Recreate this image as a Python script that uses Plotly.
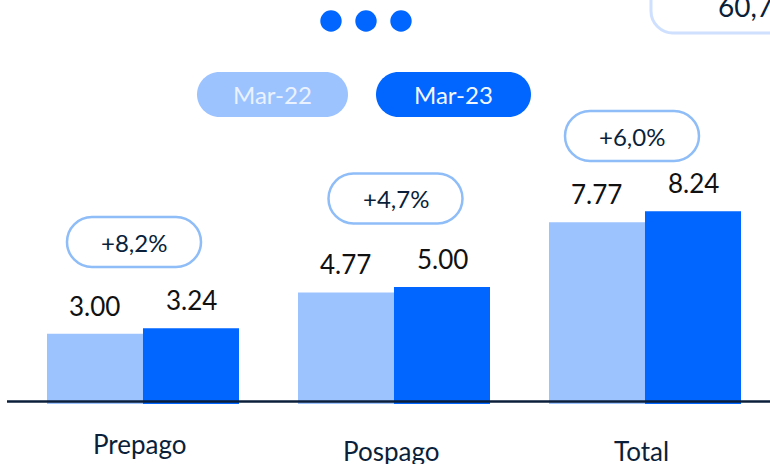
import plotly.graph_objects as go

# ---------------- data ----------------
categories = ["Prepago", "Pospago", "Total"]
series_names = ["Mar-22", "Mar-23"]
values_mar22 = [3.00, 4.77, 7.77]
values_mar23 = [3.24, 5.00, 8.24]
growth_labels = ["+8,2%", "+4,7%", "+6,0%"]
corner_value = "60,7"

# ---------------- layout constants ----------------
W, H = 770, 464
LIGHT = "#9DC3FF"
DARK = "#0066FF"
NAVY = "#0B1F3A"
PILL_BORDER = "#8FBDF7"
FONT = "Lato"

# axis ranges (pixels <-> data)
X0, X1 = -0.5697, -0.5697 + W / 251.0
PX_PER_UNIT = 23.4
BASE_PX = 404
Y0 = -(H - BASE_PX) / PX_PER_UNIT
Y1 = Y0 + H / PX_PER_UNIT
BARGAP = 0.235


def px2paper(px, py):
    return px / W, 1 - py / H


def rounded_rect(x0, y0, x1, y1, r):
    """pixel coords (y downwards) -> SVG path in paper coords"""
    k = 0.5523 * r

    def P(x, y):
        a, b = px2paper(x, y)
        return f"{a:.5f},{b:.5f}"

    d = f"M{P(x0 + r, y0)} L{P(x1 - r, y0)} "
    d += f"C{P(x1 - r + k, y0)} {P(x1, y0 + r - k)} {P(x1, y0 + r)} "
    d += f"L{P(x1, y1 - r)} "
    d += f"C{P(x1, y1 - r + k)} {P(x1 - r + k, y1)} {P(x1 - r, y1)} "
    d += f"L{P(x0 + r, y1)} "
    d += f"C{P(x0 + r - k, y1)} {P(x0, y1 - r + k)} {P(x0, y1 - r)} "
    d += f"L{P(x0, y0 + r)} "
    d += f"C{P(x0, y0 + r - k)} {P(x0 + r - k, y0)} {P(x0 + r, y0)} Z"
    return d


xs = list(range(len(categories)))
fig = go.Figure()
fig.add_trace(go.Bar(x=xs, y=values_mar22, name=series_names[0],
                     marker=dict(color=LIGHT, line=dict(width=0)),
                     hoverinfo="skip"))
fig.add_trace(go.Bar(x=xs, y=values_mar23, name=series_names[1],
                     marker=dict(color=DARK, line=dict(width=0)),
                     hoverinfo="skip"))

shapes = []
annotations = []

bar_w = (1 - BARGAP) / 2
# value labels
for i in xs:
    for off, v in ((-bar_w / 2, values_mar22[i]), (bar_w / 2, values_mar23[i])):
        annotations.append(dict(x=i + off, y=v, xref="x", yref="y",
                                text=f"{v:.2f}", showarrow=False,
                                yanchor="middle", yshift=28,
                                font=dict(family=FONT, size=26, color="#111111")))

# category labels (slightly staggered as in the original)
cat_label_py = [444, 451, 451]
for i, c in enumerate(categories):
    _, yp = px2paper(0, cat_label_py[i])
    annotations.append(dict(x=i - 0.012, y=yp, xref="x", yref="paper", text=c,
                            showarrow=False, yanchor="middle",
                            font=dict(family=FONT, size=26, color=NAVY)))

# growth pills
pill_center_px = [(134, 242), (395.5, 198.5), (632, 136)]
for (cx, cy), lab in zip(pill_center_px, growth_labels):
    w, h = 134, 50
    shapes.append(dict(type="path", xref="paper", yref="paper",
                       path=rounded_rect(cx - w / 2, cy - h / 2, cx + w / 2, cy + h / 2, h / 2),
                       line=dict(color=PILL_BORDER, width=2.5), fillcolor="white"))
    a, b = px2paper(cx, cy)
    annotations.append(dict(x=a, y=b, xref="paper", yref="paper", text=lab,
                            showarrow=False, xanchor="center", yanchor="middle",
                            font=dict(family=FONT, size=24, color=NAVY)))

# legend pills
legend_px = [(197, 72, 348, 117, LIGHT, "#EAF2FF"), (376, 72, 531, 117, DARK, "#F2F7FF")]
for (x0, y0, x1, y1, col, tcol), name in zip(legend_px, series_names):
    shapes.append(dict(type="path", xref="paper", yref="paper",
                       path=rounded_rect(x0, y0, x1, y1, (y1 - y0) / 2),
                       line=dict(width=0), fillcolor=col))
    a, b = px2paper((x0 + x1) / 2, (y0 + y1) / 2)
    annotations.append(dict(x=a, y=b, xref="paper", yref="paper", text=name,
                            showarrow=False, xanchor="center", yanchor="middle",
                            font=dict(family=FONT, size=24, color=tcol)))

# three dots
for cx in (331, 366, 401):
    a0, b0 = px2paper(cx - 10.7, 21 - 10.7)
    a1, b1 = px2paper(cx + 10.7, 21 + 10.7)
    shapes.append(dict(type="circle", xref="paper", yref="paper",
                       x0=a0, x1=a1, y0=b1, y1=b0,
                       fillcolor=DARK, line=dict(width=0)))

# top-right partial box
shapes.append(dict(type="path", xref="paper", yref="paper",
                   path=rounded_rect(651, -60, 830, 33, 22),
                   line=dict(color="#CFE0FF", width=3), fillcolor="white"))
a, b = px2paper(716, 6)
annotations.append(dict(x=a, y=b, xref="paper", yref="paper", text=corner_value,
                        showarrow=False, xanchor="left", yanchor="middle",
                        font=dict(family=FONT, size=28, color=NAVY)))

# baseline
a0, b0 = px2paper(7, 401.5)
shapes.append(dict(type="line", xref="paper", yref="paper",
                   x0=a0, x1=1, y0=b0, y1=b0, layer="above",
                   line=dict(color=NAVY, width=2.5)))

fig.update_layout(
    width=W, height=H,
    margin=dict(l=0, r=0, t=0, b=0),
    paper_bgcolor="white", plot_bgcolor="white",
    barmode="group", bargap=BARGAP, bargroupgap=0,
    showlegend=False,
    xaxis=dict(range=[X0, X1], visible=False, fixedrange=True),
    yaxis=dict(range=[Y0, Y1], visible=False, fixedrange=True),
    shapes=shapes, annotations=annotations,
)

fig.write_html(
    "out.html",
    config={"displayModeBar": False},
    post_script="document.body.style.margin='0';document.body.style.overflow='hidden';",
)
